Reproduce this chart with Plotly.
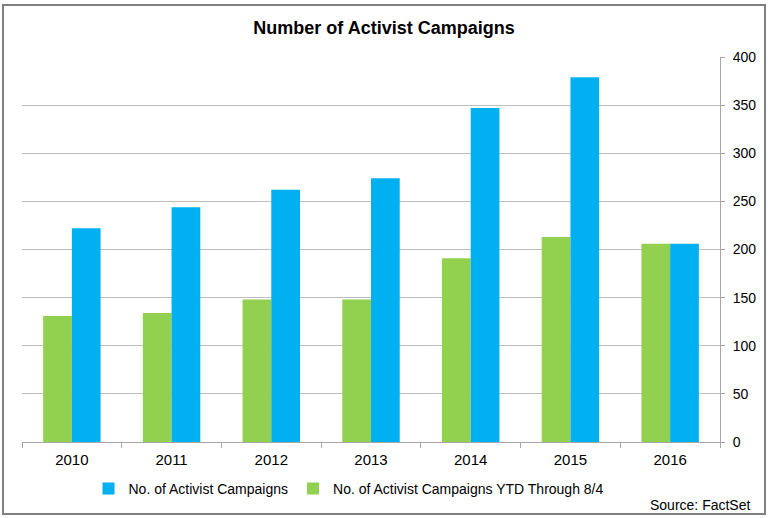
import plotly.graph_objects as go

years = ["2010", "2011", "2012", "2013", "2014", "2015", "2016"]
campaigns_total = [222, 244, 262, 274, 347, 379, 206]
campaigns_ytd = [131, 134, 148, 148, 191, 213, 206]
y_ticks = [0, 50, 100, 150, 200, 250, 300, 350, 400]

BLUE = "#00B0F0"
GREEN = "#92D050"
FONT = "Liberation Sans, Arial, sans-serif"

fig = go.Figure()
fig.add_trace(go.Bar(
    x=years, y=campaigns_ytd, name="No. of Activist Campaigns YTD Through 8/4",
    marker=dict(color=GREEN, line=dict(width=0)), legendrank=2,
))
fig.add_trace(go.Bar(
    x=years, y=campaigns_total, name="No. of Activist Campaigns",
    marker=dict(color=BLUE, line=dict(width=0)), legendrank=1,
))

# plot area in pixels: x 22..720, y 57..442 (figure 768x518)
L, R, T, B = 22, 720, 57, 442
W, H = R - L, B - T

def px(x):
    return (x - L) / W

def py(y):
    return (B - y) / H

fig.update_layout(
    width=768, height=518,
    margin=dict(l=L, r=768 - R, t=T, b=518 - B, autoexpand=False),
    paper_bgcolor="white", plot_bgcolor="white",
    barmode="group", bargap=0.424, bargroupgap=0,
    font=dict(family=FONT, size=14, color="#000000"),
    title=dict(
        text="<b>Number of Activist Campaigns</b>",
        x=0.5, xref="container", xanchor="center",
        y=1 - 28 / 518, yref="container", yanchor="middle",
        font=dict(family=FONT, size=18, color="#000000"),
    ),
    showlegend=True,
    legend=dict(
        orientation="h", x=px(349), xanchor="center",
        y=py(489), yanchor="middle",
        font=dict(family=FONT, size=14, color="#000000"),
        itemwidth=30, bgcolor="rgba(0,0,0,0)",
    ),
    xaxis=dict(
        showline=True, linecolor="#a6a6a6", linewidth=1,
        ticks="outside", tickson="boundaries", ticklen=5, tickcolor="#a6a6a6",
        showgrid=False, tickfont=dict(size=15), ticklabelstandoff=4,
    ),
    yaxis=dict(
        side="right", range=[0, 400], tickvals=y_ticks,
        showline=True, linecolor="#a6a6a6", linewidth=1,
        ticks="outside", ticklen=4, tickcolor="#a6a6a6",
        showgrid=True, gridcolor="#bebebe", gridwidth=1,
        zeroline=False, tickfont=dict(size=14), ticklabelstandoff=5,
    ),
    annotations=[dict(
        text="Source: FactSet", xref="paper", yref="paper",
        x=px(752), y=py(505), xanchor="right", yanchor="middle",
        showarrow=False, font=dict(family=FONT, size=14, color="#000000"),
    )],
    shapes=[dict(
        type="rect", xref="paper", yref="paper",
        x0=px(3), x1=px(765), y0=py(514), y1=py(5),
        line=dict(color="#808080", width=2), fillcolor="rgba(0,0,0,0)",
        layer="below",
    )],
)

fig.write_html(
    "out.html",
    config={"displayModeBar": False},
    post_script="document.body.style.margin='0';document.body.style.padding='0';",
)
